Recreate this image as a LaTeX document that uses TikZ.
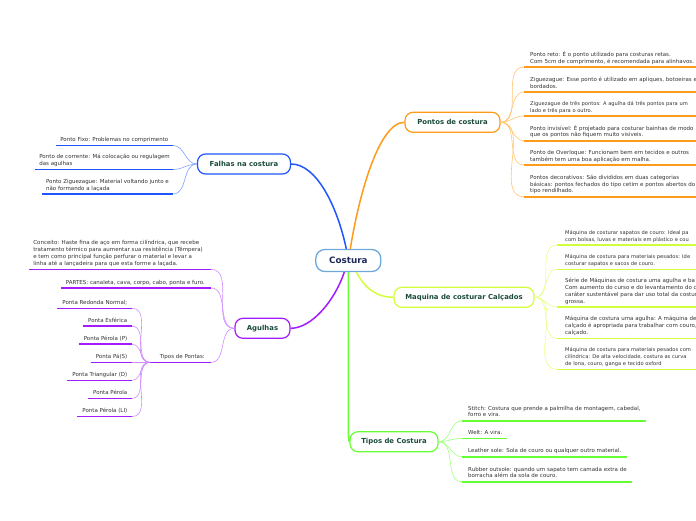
\documentclass[tikz,border=0pt]{standalone}
\usepackage{fontspec}
\setmainfont{DejaVu Sans}
\usetikzlibrary{calc}
\definecolor{cblue}{HTML}{6FA8DC}
\definecolor{ctext}{HTML}{1F2A5A}
\definecolor{ntext}{HTML}{1B4B3B}
\definecolor{ltext}{HTML}{333333}
\definecolor{cor}{HTML}{FF9A1A}
\definecolor{corl}{HTML}{FFC470}
\definecolor{cbl}{HTML}{1F56FF}
\definecolor{cbll}{HTML}{80A0FF}
\definecolor{cpu}{HTML}{A21CFF}
\definecolor{cpul}{HTML}{CF8CFF}
\definecolor{cye}{HTML}{D2FF3A}
\definecolor{cyel}{HTML}{E6FF8C}
\definecolor{cgr}{HTML}{66FF33}
\definecolor{cgrl}{HTML}{A0FF80}
\tikzset{
  mainbox/.style={draw, line width=1.2pt, rounded corners=8pt, fill=white, text=ntext,
    font=\bfseries\fontsize{6.9}{8}\selectfont, inner sep=0pt, minimum height=20pt},
  leaf/.style={text=ltext, font=\fontsize{5.5}{6.9}\selectfont, align=left, inner sep=0pt,
    execute at end node={\strut}},
  tightleaf/.style={leaf, font=\fontsize{5.15}{6.9}\selectfont},
  br/.style={line width=1.5pt},
  lconn/.style={line width=0.6pt},
  uline/.style={line width=1.6pt},
}
\begin{document}
\begin{tikzpicture}[x=1pt,y=-1pt]
\useasboundingbox (0,0) rectangle (696,520);
\clip (0,0) rectangle (696,520);

% ---------- main nodes ----------
\node[draw=cblue, line width=1.3pt, rounded corners=9pt, fill=white, text=ctext,
  font=\bfseries\fontsize{8.8}{10}\selectfont, minimum width=65pt, minimum height=22pt, inner sep=0pt]
  (costura) at (348.3,260.5) {Costura};
\node[mainbox, draw=cor, minimum width=95pt] (pontos) at (452.5,122.3) {Pontos de costura};
\node[mainbox, draw=cbl, minimum width=93pt] (falhas) at (244,164) {Falhas na costura};
\node[mainbox, draw=cpu, minimum width=55pt] (agu) at (262.5,328.3) {Agulhas};
\node[mainbox, draw=cye, minimum width=140pt] (maq) at (464,297.3) {Maquina de costurar Calçados};
\node[mainbox, draw=cgr, minimum width=88pt] (tipos) at (394,441.7) {Tipos de Costura};

% ---------- main branches ----------
\draw[br, cbl] ([xshift=-2pt]costura.north) .. controls (337,205) and (316,164) .. (falhas.east);
\draw[br, cor] ([xshift=2pt]costura.north) .. controls (358,200) and (378,122.3) .. (pontos.west);
\draw[br, cye] ([xshift=8pt]costura.south) .. controls (366,290) and (378,297.3) .. (maq.west);
\draw[br, cpu] ([xshift=-4pt]costura.south) .. controls (335,300) and (312,328.3) .. (agu.east);
\coordinate (tbend) at (348.3,428);
\draw[br, cgr] (costura.south) -- (tbend) .. controls (348.3,438) and (349,441.7) .. (tipos.west);

% ---------- Pontos de costura leaves ----------
\foreach \n/\y in {1/67,2/92,3/116,4/140.7,5/165,6/196.7}{
  \coordinate (ps\n) at (524,\y);
  \coordinate (pe\n) at (700,\y);
}
\node[leaf, anchor=south west] (p1) at (530,65.5) {Ponto reto: É o ponto utilizado para costuras retas.\\Com 5cm de comprimento, é recomendada para alinhavos.};
\node[leaf, anchor=south west] (p2) at (530,90.5) {Ziguezague: Esse ponto é utilizado em apliques, botoeiras e\\bordados.};
\node[tightleaf, anchor=south west] (p3) at (530,114.5) {Ziguezague de três pontos: A agulha dá três pontos para um\\lado e três para o outro.};
\node[leaf, anchor=south west] (p4) at (530,139.2) {Ponto invisível: É projetado para costurar bainhas de modo\\que os pontos não fiquem muito visíveis.};
\node[leaf, anchor=south west] (p5) at (530,163.5) {Ponto de Overloque: Funcionam bem em tecidos e outros\\também tem uma boa aplicação em malha.};
\node[leaf, anchor=south west] (p6) at (530,195.2) {Pontos decorativos: São divididos em duas categorias\\básicas: pontos fechados do tipo cetim e pontos abertos do\\tipo rendilhado.};
\foreach \n in {1,...,6}{
  \draw[lconn, corl] (pontos.east) to[out=0,in=180] (ps\n);
  \draw[uline, cor] (ps\n) -- (pe\n);
}

% ---------- Falhas leaves ----------
\coordinate (fe1) at (173,145.5);
\coordinate (fe2) at (173,169.5);
\coordinate (fe3) at (173,194);
\node[leaf, anchor=south east] (f1) at (168.5,144) {Ponto Fixo: Problemas no comprimento};
\node[leaf, anchor=south east] (f2) at (170,168) {Ponto de corrente: Má colocação ou regulagem\\ das agulhas};
\node[leaf, anchor=south east] (f3) at (169,192.5) {Ponto Ziguezague: Material voltando junto e\\não formando a laçada};
\foreach \n in {1,2,3}{
  \draw[lconn, cbll] (falhas.west) to[out=180,in=0] (fe\n);
  \draw[uline, cbl] (fe\n) -- ($(fe\n -| f\n.west)+(-4,0)$);
}

% ---------- Agulhas leaves ----------
\coordinate (ae1) at (211,269.3);
\coordinate (ae2) at (211,288);
\coordinate (ae3) at (211,362.3);
\coordinate (as3) at (150,362.3);
\node[leaf, anchor=south east] (a1) at (203,267.8) {Conceito: Haste fina de aço em forma cilíndrica, que recebe\\tratamento térmico para aumentar sua resistência (Têmpera)\\e tem como principal  função perfurar o material e levar a\\linha até a lançadeira para que esta forme a laçada.};
\node[leaf, anchor=south east] (a2) at (205,286.5) {PARTES: canaleta, cava, corpo, cabo, ponta e furo.};
\node[leaf, anchor=south east] (a3) at (205,360.8) {Tipos de Pontas:};
\draw[lconn, cpul] (agu.west) to[out=180,in=0] (ae1);
\draw[lconn, cpul] (agu.west) to[out=180,in=0] (ae2);
\draw[lconn, cpul] (agu.west) to[out=180,in=0] (ae3);
\draw[uline, cpu] (ae1) -- ($(ae1 -| a1.west)+(-4.5,0)$);
\draw[uline, cpu] (ae2) -- ($(ae2 -| a2.west)+(-5,0)$);
\draw[uline, cpu] (ae3) -- (as3);

% ---------- Tipos de Pontas sub-leaves ----------
\foreach \n/\y in {1/308.3,2/326.2,3/344.2,4/362.3,5/380.3,6/398.3,7/416.5}{
  \coordinate (se\n) at (132,\y);
}
\node[leaf, anchor=south east] (s1) at (127.5,306.8) {Ponta Redonda Normal;};
\node[leaf, anchor=south east] (s2) at (127.5,324.7) {Ponta Esférica};
\node[leaf, anchor=south east] (s3) at (127.5,342.7) {Ponta Pérola (P)};
\node[leaf, anchor=south east] (s4) at (127.5,360.8) {Ponta Pá(S)};
\node[leaf, anchor=south east] (s5) at (127.5,378.8) {Ponta Triangular (D)};
\node[leaf, anchor=south east] (s6) at (127.5,396.8) {Ponta Pérola};
\node[leaf, anchor=south east] (s7) at (127.5,415) {Ponta Pérola (LI)};
\foreach \n in {1,...,7}{
  \draw[lconn, cpul] (as3) to[out=180,in=0] (se\n);
  \draw[uline, cpu] (se\n) -- ($(se\n -| s\n.west)+(-5,0)$);
}

% ---------- Maquina leaves ----------
\foreach \n/\y in {1/245,2/269.3,3/307,4/338.3,5/369.3}{
  \coordinate (ms\n) at (557,\y);
  \coordinate (me\n) at (700,\y);
}
\node[tightleaf, anchor=south west] (m1) at (565,243.5) {Máquina de costurar sapatos de couro: Ideal pa\\com bolsas, luvas e materiais em plástico e cou};
\node[tightleaf, anchor=south west] (m2) at (565,267.8) {Máquina de costura para materiais pesados: Ide\\costurar sapatos e sacos de couro.};
\node[leaf, anchor=south west] (m3) at (565,305.5) {Série de Máquinas de costura uma agulha e ba\\Com aumento do curso e do levantamento do c\\caráter sustentável para dar uso total da costur\\grossa.};
\node[leaf, anchor=south west] (m4) at (565,336.8) {Máquina de costura uma agulha: A máquina de\\calçado é apropriada para trabalhar com couro,\\calçado.};
\node[tightleaf, anchor=south west] (m5) at (565,367.8) {Máquina de costura para materiais pesados com\\cilíndrica:  De alta velocidade, costura as curva\\de lona, couro, ganga e tecido oxford};
\foreach \n in {1,...,5}{
  \draw[lconn, cyel] (maq.east) to[out=0,in=180] (ms\n);
  \draw[uline, cye] (ms\n) -- (me\n);
}

% ---------- Tipos de Costura leaves ----------
\foreach \n/\y in {1/420.7,2/438.3,3/456.7,4/481.7}{
  \coordinate (ts\n) at (462,\y);
}
\node[leaf, anchor=south west] (t1) at (468,419.2) {Stitch: Costura que prende a palmilha de montagem, cabedal,\\forro e vira.};
\node[leaf, anchor=south west] (t2) at (468,436.8) {Welt: A vira.};
\node[leaf, anchor=south west] (t3) at (468,455.2) {Leather sole: Sola de couro ou qualquer outro material.};
\node[leaf, anchor=south west] (t4) at (468,480.2) {Rubber outsole: quando um sapato tem camada extra de\\borracha além da sola de couro.};
\foreach \n in {1,...,4}{
  \draw[lconn, cgrl] (tipos.east) to[out=0,in=180] (ts\n);
  \draw[uline, cgr] (ts\n) -- ($(ts\n -| t\n.east)+(5,0)$);
}
\end{tikzpicture}
\end{document}
